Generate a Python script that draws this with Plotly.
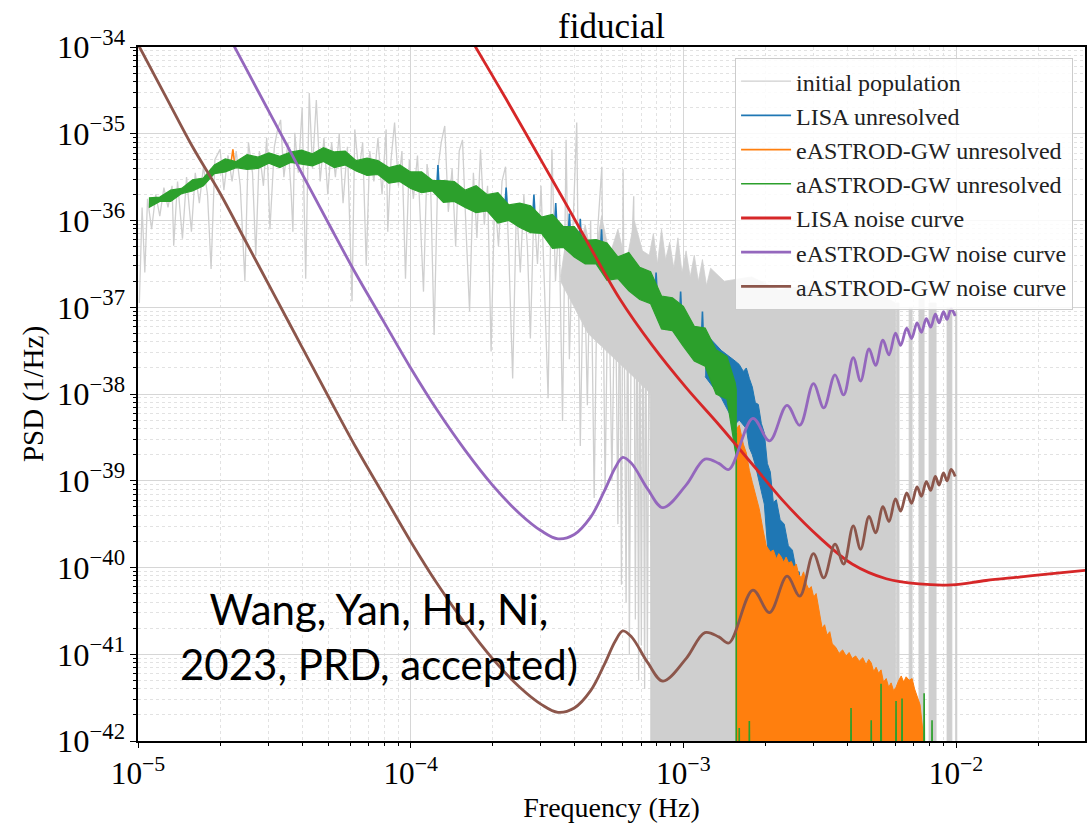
import numpy as np
import plotly.graph_objects as go

# ---------------- data: log10(frequency) / log10(PSD) ----------------
# initial population, low-frequency jagged part
gray_lf = [-4.995,-4.985,-4.975,-4.965,-4.950,-4.935,-4.920,-4.905,-4.890,-4.875,-4.869,-4.855,-4.837,-4.822,-4.804,-4.790,-4.775,-4.760,-4.745,-4.732,
           -4.718,-4.699,-4.685,-4.670,-4.655,-4.640,-4.625,-4.608,-4.595,-4.580,-4.568,-4.555,-4.540,-4.528,-4.516,-4.500,-4.488,-4.477,-4.465,-4.450,
           -4.438,-4.432,-4.425,-4.412,-4.398,-4.385,-4.372,-4.360,-4.346,-4.332,-4.318,-4.304,-4.290,-4.276,-4.262,-4.248,-4.232,-4.215,-4.205,-4.190,
           -4.176,-4.163,-4.150,-4.135,-4.120,-4.105,-4.090,-4.084,-4.072,-4.059,-4.045,-4.032,-4.019,-4.005,-3.990,-3.975,-3.953,-3.940,-3.926,-3.914,
           -3.900,-3.888,-3.875,-3.862,-3.848,-3.835,-3.822,-3.810,-3.797,-3.784,-3.770,-3.757,-3.744,-3.730,-3.718,-3.705,-3.692,-3.678,-3.665,-3.652,
           -3.640,-3.626,-3.612,-3.598,-3.585,-3.572,-3.561,-3.548,-3.535,-3.522,-3.509,
           -3.496,-3.482,-3.469,-3.456,-3.443,-3.430,-3.418,-3.405,-3.391,-3.378,-3.365,-3.352,-3.340,-3.327,-3.314,-3.299,-3.287,-3.275,-3.262,-3.250,
           -3.240,-3.234,-3.227,-3.221,-3.210,-3.204,-3.198,-3.190,-3.182,-3.176,-3.170,-3.164,-3.160,-3.154,-3.148,-3.142,-3.138,-3.132,-3.125,-3.115,
           -3.105]
gray_lp = [-36.95,-35.85,-36.60,-35.75,-36.10,-35.70,-35.95,-35.62,-35.85,-35.60,-36.29,-35.55,-36.21,-35.50,-36.13,-35.45,-35.80,-35.38,-35.70,-36.56,
           -35.30,-35.18,-35.65,-35.25,-35.55,-35.20,-35.60,-36.70,-35.10,-35.45,-36.41,-35.20,-35.60,-35.05,-36.10,-35.15,-34.95,-34.84,-35.50,-35.10,
           -35.70,-36.13,-34.99,-35.45,-34.70,-36.67,-34.53,-35.40,-34.61,-35.55,-35.05,-35.70,-35.10,-35.50,-35.00,-35.80,-35.15,-36.93,-34.95,-35.45,
           -35.10,-36.52,-35.20,-35.55,-35.05,-35.70,-34.95,-36.13,-35.30,-34.87,-35.60,-35.20,-36.67,-35.30,-35.75,-35.25,-36.82,-35.35,-35.70,-37.32,
           -35.40,-35.10,-34.91,-35.90,-35.40,-36.30,-35.20,-35.07,-36.10,-37.05,-35.45,-36.20,-35.18,-36.05,-35.60,-37.51,-35.70,-36.30,-35.55,-35.38,
           -36.40,-37.82,-35.80,-36.60,-35.70,-36.30,-37.36,-35.85,-36.50,-35.60,-36.80,
           -38.05,-35.18,-36.70,-36.00,-38.31,-35.07,-37.60,-36.10,-34.87,-38.60,-36.20,-38.13,-36.00,-39.20,-36.10,-35.38,-39.10,-36.30,-39.00,-36.40,
           -39.50,-36.50,-40.20,-35.41,-40.40,-36.50,-41.00,-36.40,-35.72,-40.60,-36.60,-41.30,-36.60,-40.90,-36.70,-41.40,-36.70,-41.10,-36.60,-41.50,
           -36.70]

# initial population, dense high-frequency region (upper edge, then lower edge)
gray_up_lf = [-3.45,-3.42,-3.39,-3.36,-3.33,-3.30,-3.27,-3.24,-3.21,-3.18,-3.15,-3.125,-3.110,-3.095,-3.080,-3.065,-3.050,-3.035,-3.020,-3.005,
              -2.990,-2.975,-2.960,-2.945,-2.930,-2.915,-2.900,-2.85,-2.75,-2.65,-2.55,-2.45,-2.35,-2.25,-2.222]
gray_up_lp = [-36.65,-36.00,-36.45,-36.05,-36.50,-35.95,-36.40,-36.10,-36.50,-36.00,-36.35,-36.40,-36.15,-36.50,-36.10,-36.45,-36.25,-36.55,-36.20,-36.60,
              -36.35,-36.65,-36.40,-36.70,-36.45,-36.75,-36.55,-36.70,-36.65,-36.80,-36.75,-36.85,-36.80,-36.90,-36.95]
gray_lo_lf = [-3.45,-3.35,-3.25,-3.15,-3.120,-3.120,-2.222]
gray_lo_lp = [-36.70,-37.30,-37.60,-37.90,-38.00,-43.50,-43.50]
# isolated populated bins above 6e-3 Hz (left edge, right edge, top)
gray_bin_l = [-2.218,-2.172,-2.136,-2.099,-2.033,-2.002]
gray_bin_r = [-2.209,-2.161,-2.117,-2.073,-2.015,-1.997]
gray_bin_t = [-36.95,-37.00,-36.90,-36.95,-37.00,-37.05]

# aASTROD-GW unresolved band (upper / lower edge)
green_lf = [-4.96,-4.92,-4.88,-4.84,-4.80,-4.76,-4.72,-4.68,-4.64,-4.60,-4.56,-4.52,-4.48,-4.44,-4.40,-4.36,-4.32,-4.28,-4.24,-4.20,
            -4.16,-4.12,-4.08,-4.04,-4.00,-3.96,-3.92,-3.88,-3.84,-3.80,-3.76,-3.72,-3.68,-3.64,-3.60,-3.56,-3.52,-3.48,-3.44,-3.40,
            -3.36,-3.32,-3.28,-3.24,-3.20,-3.16,-3.12,-3.08,-3.04,-3.00,-2.96,-2.92,-2.88,-2.84,-2.81,-2.806]
green_up = [-35.74,-35.73,-35.65,-35.63,-35.53,-35.51,-35.36,-35.29,-35.32,-35.24,-35.27,-35.22,-35.26,-35.21,-35.19,-35.23,-35.16,-35.21,-35.20,-35.31,
            -35.28,-35.31,-35.39,-35.36,-35.44,-35.44,-35.54,-35.54,-35.55,-35.65,-35.60,-35.70,-35.68,-35.82,-35.80,-35.83,-35.96,-35.93,-36.07,-36.07,
            -36.23,-36.22,-36.26,-36.42,-36.37,-36.54,-36.59,-36.87,-36.89,-36.99,-37.22,-37.24,-37.49,-37.57,-37.87,-37.95]
green_lo = [-35.85,-35.78,-35.78,-35.69,-35.66,-35.60,-35.46,-35.44,-35.39,-35.41,-35.40,-35.34,-35.39,-35.33,-35.35,-35.37,-35.32,-35.39,-35.36,-35.43,
            -35.48,-35.47,-35.57,-35.55,-35.63,-35.68,-35.66,-35.79,-35.78,-35.85,-35.91,-35.89,-36.03,-36.00,-36.08,-36.14,-36.15,-36.32,-36.31,-36.42,
            -36.50,-36.50,-36.69,-36.67,-36.81,-36.91,-36.96,-37.25,-37.27,-37.45,-37.62,-37.68,-38.00,-38.06,-38.65,-38.70]
# aASTROD-GW unresolved: cut-off edge and residual spikes
green_sp_lf = [-2.806,-2.806,-2.798,-2.795,-2.792,-2.761,-2.758,-2.755,-2.388,-2.385,-2.382,-2.314,-2.311,-2.308,-2.278,-2.275,-2.272,
               -2.223,-2.220,-2.217,-2.201,-2.198,-2.195,-2.120,-2.117,-2.114,-2.091,-2.088,-2.085]
green_sp_lp = [-38.45,-43.5,-43.5,-41.85,-43.5,-43.5,-41.77,-43.5,-43.5,-41.62,-43.5,-43.5,-41.76,-43.5,-43.5,-41.34,-43.5,
               -43.5,-41.54,-43.5,-43.5,-41.51,-43.5,-43.5,-41.45,-43.5,-43.5,-41.76,-43.5]

# LISA unresolved band beyond the aASTROD cut-off
blue_lf = [-2.92,-2.86,-2.81,-2.795,-2.780,-2.769,-2.758,-2.747,-2.736,-2.725,-2.714,-2.703,-2.692,-2.681,-2.670,-2.659,-2.645,-2.630,-2.615,-2.600,-2.585,-2.575,-2.568]
blue_up = [-37.30,-37.50,-37.62,-37.66,-37.74,-37.70,-37.82,-37.92,-38.10,-38.12,-38.34,-38.45,-38.80,-38.90,-39.25,-39.22,-39.45,-39.50,-39.75,-39.80,-40.05,-40.05,-40.30]
blue_lo = [-37.80,-38.05,-38.35,-38.30,-38.36,-38.40,-38.62,-38.70,-38.82,-38.96,-39.12,-39.27,-39.73,-40.00,-40.10,-40.15,-40.20,-40.25,-40.30,-40.35,-40.40,-40.40,-40.45]
# LISA unresolved: spikes poking above the green band
blue_sp_lf = [-3.905,-3.900,-3.895,-3.655,-3.650,-3.645,-3.553,-3.548,-3.543,-3.473,-3.468,-3.463,-3.423,-3.418,-3.413,
              -3.383,-3.378,-3.373,-3.305,-3.300,-3.295,-3.105,-3.100,-3.095,-3.015,-3.010,-3.005,-2.935,-2.930,-2.925]
blue_sp_lp = [-35.66,-35.36,-35.66,-35.88,-35.62,-35.88,-35.99,-35.70,-35.99,-36.10,-35.80,-36.10,-36.22,-35.92,-36.22,
              -36.30,-35.98,-36.30,-36.42,-36.10,-36.42,-36.90,-36.60,-36.90,-37.19,-36.82,-37.19,-37.48,-37.05,-37.48]

# eASTROD-GW unresolved (top edge of the filled region)
orange_lf = [-2.806,-2.806,-2.795,-2.780,-2.769,-2.758,-2.747,-2.733,-2.722,-2.707,-2.696,-2.681,-2.670,-2.659,-2.650,-2.641,-2.632,-2.623,-2.614,-2.604,
             -2.595,-2.586,-2.577,-2.568,-2.559,-2.549,-2.540,-2.531,-2.522,-2.513,-2.502,-2.491,-2.482,-2.473,-2.463,-2.454,-2.441,-2.429,-2.416,-2.403,
             -2.392,-2.381,-2.368,-2.355,-2.342,-2.330,-2.320,-2.311,-2.302,-2.293,-2.284,-2.275,-2.266,-2.256,-2.247,-2.238,-2.229,-2.220,-2.210,-2.201,
             -2.192,-2.183,-2.172,-2.161,-2.152,-2.143,-2.132,-2.121,-2.117]
orange_top = [-43.5,-38.40,-38.36,-38.58,-38.68,-38.88,-39.02,-39.18,-39.32,-39.58,-39.75,-39.82,-39.80,-39.90,-39.84,-39.88,-39.94,-39.88,-39.95,-39.93,
              -40.00,-39.96,-40.08,-40.12,-40.05,-40.19,-40.25,-40.22,-40.34,-40.30,-40.52,-40.70,-40.66,-40.78,-40.74,-40.88,-40.92,-40.99,-40.95,-41.02,
              -40.98,-41.05,-41.02,-41.08,-41.04,-41.12,-41.06,-41.10,-41.20,-41.15,-41.22,-41.18,-41.32,-41.28,-41.38,-41.33,-41.42,-41.38,-41.30,-41.25,
              -41.32,-41.26,-41.30,-41.28,-41.40,-41.48,-41.58,-41.90,-43.5]
orange_sp_lf = [-4.660,-4.652,-4.645]
orange_sp_lp = [-35.36,-35.18,-35.36]

# noise curves
red_lf = [-3.82,-3.762,-3.65,-3.55,-3.45,-3.35,-3.234,-3.114,-2.989,-2.868,-2.747,-2.623,-2.502,-2.381,-2.256,-2.136,-2.015,-1.89,-1.769,-1.648,-1.52]
red_lp = [-33.68,-34.00,-34.60,-35.15,-35.70,-36.26,-36.90,-37.44,-37.93,-38.36,-38.81,-39.27,-39.65,-39.96,-40.13,-40.19,-40.20,-40.15,-40.11,-40.07,-40.03]

purple_lf = [-4.70,-4.60,-4.50,-4.40,-4.30,-4.20,-4.10,-4.00,-3.90,-3.80,-3.70,-3.60,-3.52,-3.46,-3.40,-3.34,-3.29,-3.25,-3.222,-3.19,
             -3.13,-3.075,-2.99,-2.921,-2.87,-2.833,-2.745,-2.684,-2.620,-2.573,-2.523,-2.485,-2.444,-2.412,-2.377,-2.350,-2.319,-2.295,-2.268,-2.246,
             -2.222,-2.203,-2.181,-2.163,-2.143,-2.127,-2.109,-2.093,-2.076,-2.062,-2.046,-2.033,-2.018,-2.003]
purple_lp = [-33.68,-34.27,-34.86,-35.45,-36.04,-36.62,-37.16,-37.70,-38.20,-38.65,-39.05,-39.38,-39.58,-39.67,-39.62,-39.42,-39.12,-38.85,-38.73,-38.80,
             -39.10,-39.31,-39.05,-38.75,-38.80,-38.87,-38.28,-38.54,-38.13,-38.36,-37.88,-38.16,-37.78,-38.01,-37.58,-37.85,-37.48,-37.67,-37.38,-37.55,
             -37.30,-37.44,-37.24,-37.36,-37.18,-37.29,-37.13,-37.23,-37.08,-37.18,-37.05,-37.14,-37.02,-37.10]

brown_lf = [-5.02,-4.90,-4.80,-4.70,-4.60,-4.50,-4.40,-4.30,-4.20,-4.10,-4.00,-3.90,-3.80,-3.70,-3.60,-3.52,-3.46,-3.40,-3.34,-3.29,
            -3.25,-3.222,-3.19,-3.13,-3.075,-2.99,-2.921,-2.87,-2.833,-2.745,-2.684,-2.620,-2.573,-2.523,-2.485,-2.444,-2.412,-2.377,-2.350,-2.319,
            -2.295,-2.268,-2.246,-2.222,-2.203,-2.181,-2.163,-2.143,-2.127,-2.109,-2.093,-2.076,-2.062,-2.046,-2.033,-2.018,-2.003]
brown_lp = [-33.85,-34.56,-35.15,-35.68,-36.27,-36.86,-37.45,-38.04,-38.62,-39.16,-39.70,-40.20,-40.65,-41.05,-41.38,-41.58,-41.67,-41.62,-41.42,-41.12,
            -40.85,-40.73,-40.80,-41.10,-41.31,-41.05,-40.75,-40.80,-40.87,-40.26,-40.52,-40.10,-40.33,-39.84,-40.12,-39.73,-39.96,-39.52,-39.79,-39.41,
            -39.60,-39.30,-39.47,-39.21,-39.35,-39.14,-39.26,-39.07,-39.18,-39.01,-39.11,-38.95,-39.05,-38.91,-39.00,-38.87,-38.95]

labels = ["initial population", "LISA unresolved", "eASTROD-GW unresolved", "aASTROD-GW unresolved",
          "LISA noise curve", "eASTROD-GW noise curve", "aASTROD-GW noise curve"]

C_GRAY, C_BLUE, C_ORANGE, C_GREEN = "#cfcfcf", "#1f77b4", "#ff7f0e", "#2ca02c"
C_RED, C_PURPLE, C_BROWN = "#d62728", "#9467bd", "#8c564b"
SERIF = "Liberation Serif"


def p(v):
    return [None if a is None else 10.0 ** a for a in v]


def band(lf, up, lo):
    return lf + lf[::-1], up + lo[::-1]


fig = go.Figure()

# initial population
fig.add_trace(go.Scatter(x=p(gray_lf), y=p(gray_lp), mode="lines", name=labels[0], legendrank=1,
                         line=dict(color=C_GRAY, width=1.3)))
gx = gray_up_lf + gray_lo_lf[::-1]
gy = gray_up_lp + gray_lo_lp[::-1]
for l, r, t in zip(gray_bin_l, gray_bin_r, gray_bin_t):
    gx += [None, l, l, r, r]
    gy += [None, -43.5, t, t, -43.5]
fig.add_trace(go.Scatter(x=p(gx), y=p(gy), mode="lines", fill="toself", fillcolor=C_GRAY,
                         line=dict(color=C_GRAY, width=0.8), showlegend=False, hoverinfo="skip"))

# LISA unresolved
bx, by = band(blue_lf, blue_up, blue_lo)
fig.add_trace(go.Scatter(x=p(bx), y=p(by), mode="lines", fill="toself", fillcolor=C_BLUE,
                         line=dict(color=C_BLUE, width=1), showlegend=False, hoverinfo="skip"))
fig.add_trace(go.Scatter(x=p(blue_sp_lf), y=p(blue_sp_lp), mode="lines", name=labels[1], legendrank=2,
                         line=dict(color=C_BLUE, width=1.6)))

# eASTROD-GW unresolved
fig.add_trace(go.Scatter(x=p(orange_lf), y=p(orange_top), mode="lines", fill="toself", fillcolor=C_ORANGE,
                         line=dict(color=C_ORANGE, width=1), showlegend=False, hoverinfo="skip"))
fig.add_trace(go.Scatter(x=p(orange_sp_lf), y=p(orange_sp_lp), mode="lines", name=labels[2], legendrank=3,
                         line=dict(color=C_ORANGE, width=1.6)))

# aASTROD-GW unresolved
gbx, gby = band(green_lf, green_up, green_lo)
fig.add_trace(go.Scatter(x=p(gbx), y=p(gby), mode="lines", fill="toself", fillcolor=C_GREEN,
                         line=dict(color=C_GREEN, width=1.2), showlegend=False, hoverinfo="skip"))
fig.add_trace(go.Scatter(x=p(green_sp_lf), y=p(green_sp_lp), mode="lines", name=labels[3], legendrank=4,
                         line=dict(color=C_GREEN, width=1.6)))

# noise curves
fig.add_trace(go.Scatter(x=p(red_lf), y=p(red_lp), mode="lines", name=labels[4], legendrank=5,
                         line=dict(color=C_RED, width=2.8, shape="spline")))
fig.add_trace(go.Scatter(x=p(purple_lf), y=p(purple_lp), mode="lines", name=labels[5], legendrank=6,
                         line=dict(color=C_PURPLE, width=2.8, shape="spline")))
fig.add_trace(go.Scatter(x=p(brown_lf), y=p(brown_lp), mode="lines", name=labels[6], legendrank=7,
                         line=dict(color=C_BROWN, width=2.8, shape="spline")))

axis_common = dict(
    type="log", dtick=1, exponentformat="power", showexponent="all",
    ticks="outside", tickwidth=1.2, tickcolor="black",
    showline=True, linecolor="black", linewidth=1.5, mirror=True,
    showgrid=True, gridcolor="#d6d6d6", gridwidth=1.2, zeroline=False,
    minor=dict(dtick="D1", ticks="outside", ticklen=3, tickcolor="black",
               showgrid=True, gridcolor="#e2e2e2", griddash="dot", gridwidth=1),
)
fig.update_xaxes(range=[-5, -1.527], ticklen=5,
                 tickfont=dict(family=SERIF, size=25, color="black"),
                 title=dict(text="Frequency (Hz)", font=dict(family=SERIF, size=28, color="black"), standoff=10),
                 **axis_common)
fig.update_yaxes(range=[-42, -34], ticklen=6,
                 tickfont=dict(family=SERIF, size=26, color="black"),
                 title=dict(text="PSD (1/Hz)", font=dict(family=SERIF, size=29, color="black"), standoff=5),
                 **axis_common)

fig.update_layout(
    width=1089, height=823,
    margin=dict(l=138, r=2, t=47, b=78),
    paper_bgcolor="white", plot_bgcolor="white",
    title=dict(text="fiducial", x=0.5, xref="paper", xanchor="center",
               y=1 - 26 / 823, yref="container", yanchor="middle",
               font=dict(family=SERIF, size=35, color="black")),
    legend=dict(x=0.9874, y=0.984, xanchor="right", yanchor="top", traceorder="normal",
                bgcolor="rgba(255,255,255,0.85)", bordercolor="#cccccc", borderwidth=1,
                font=dict(family=SERIF, size=24, color="#222222"), itemwidth=50),
    annotations=[dict(text="Wang, Yan, Hu, Ni,<br>2023, PRD, accepted)", xref="paper", yref="paper",
                      x=0.254, y=0.150, xanchor="center", yanchor="middle", showarrow=False, align="center",
                      font=dict(family="Lato", size=42, color="black"))],
)

fig.write_html("out.html")
